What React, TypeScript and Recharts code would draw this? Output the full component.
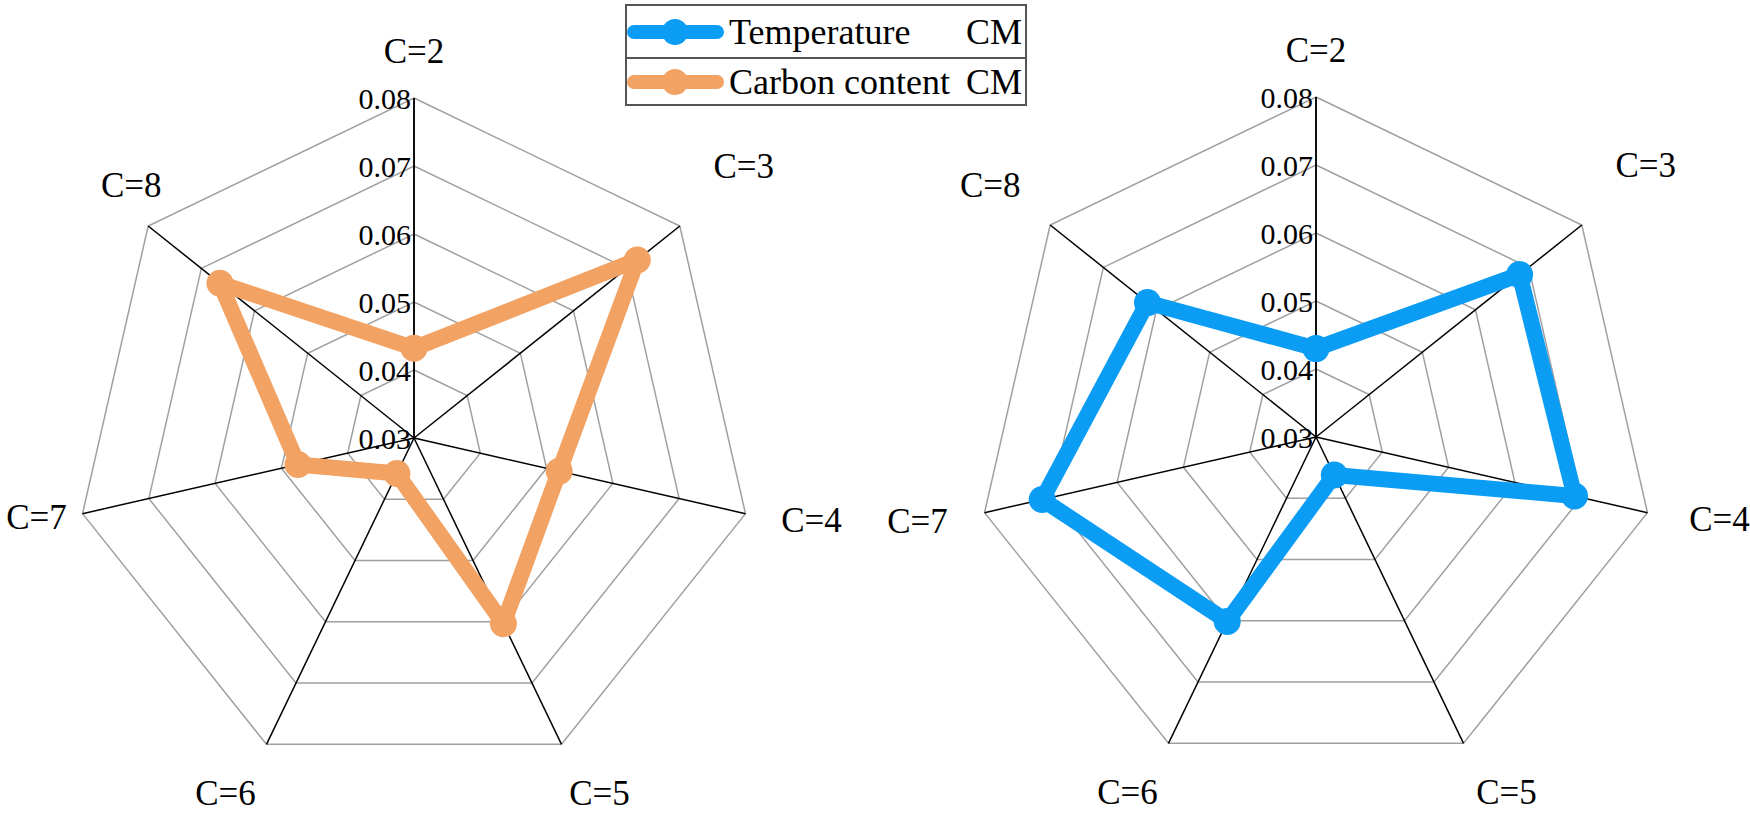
import { RadarChart, Radar, PolarGrid, PolarAngleAxis, PolarRadiusAxis, Legend } from 'recharts'

const categories = ['C=2', 'C=3', 'C=4', 'C=5', 'C=6', 'C=7', 'C=8']
const carbonCM = [0.0432, 0.072, 0.0519, 0.0603, 0.0358, 0.0475, 0.0665]
const temperatureCM = [0.043, 0.0683, 0.069, 0.0362, 0.0601, 0.0713, 0.0617]
const radiusTicks = [0.03, 0.04, 0.05, 0.06, 0.07, 0.08]
const AXIS_MIN = 0.03
const AXIS_MAX = 0.08

const ORANGE = '#F2A263'
const BLUE = '#0B9CF4'
const FONT = '"Liberation Serif", "Times New Roman", serif'

// radius axis starts at 0.03 in the centre: values are plotted relative to it
const carbonData = categories.map((c, i) => ({ category: c, value: carbonCM[i] - AXIS_MIN }))
const temperatureData = categories.map((c, i) => ({ category: c, value: temperatureCM[i] - AXIS_MIN }))
const shiftedTicks = radiusTicks.map(t => Number((t - AXIS_MIN).toFixed(4)))

const legendItems = [
  { label: 'Temperature', suffix: 'CM', color: BLUE },
  { label: 'Carbon content', suffix: 'CM', color: ORANGE },
]

const OUTER = 340

type Offsets = Record<string, [number, number]>

// label centre relative to the outer vertex of each spoke
const leftOffsets: Offsets = {
  'C=2': [0, -47],
  'C=3': [64, -60],
  'C=4': [66, 7],
  'C=5': [38, 49],
  'C=6': [-41, 49],
  'C=7': [-46, 4],
  'C=8': [-17, -41],
}
const rightOffsets: Offsets = {
  'C=2': [0, -47],
  'C=3': [64, -60],
  'C=4': [72, 7],
  'C=5': [43, 49],
  'C=6': [-41, 49],
  'C=7': [-67, 9],
  'C=8': [-60, -40],
}

function makeAngleTick(cx: number, cy: number, offsets: Offsets) {
  return (props: any) => {
    const { x, y, payload } = props
    const dx = x - cx
    const dy = y - cy
    const len = Math.hypot(dx, dy) || 1
    const vx = cx + (dx / len) * OUTER
    const vy = cy + (dy / len) * OUTER
    const [ox, oy] = offsets[payload.value] ?? [0, 0]
    return (
      <text
        x={vx + ox}
        y={vy + oy}
        textAnchor="middle"
        dominantBaseline="central"
        fontSize={35}
        fontFamily={FONT}
        style={{ fontFamily: FONT }}
        fill="#000"
      >
        {payload.value}
      </text>
    )
  }
}

const RadiusTick = (props: any) => (
  <text
    x={props.x - 3}
    y={props.y}
    textAnchor="end"
    dominantBaseline="central"
    fontSize={30}
    fontFamily={FONT}
    style={{ fontFamily: FONT }}
    fill="#000"
  >
    {(Number(props.payload.value) + AXIS_MIN).toFixed(2)}
  </text>
)

const LegendBox = () => (
  <div
    style={{
      width: 402,
      border: '2px solid #555',
      boxSizing: 'border-box',
      fontFamily: FONT,
      fontSize: 36,
      background: '#fff',
      color: '#000',
      whiteSpace: 'nowrap',
    }}
  >
    {legendItems.map((it, i) => (
      <div
        key={it.label}
        style={{
          display: 'flex',
          alignItems: 'center',
          height: i === 0 ? 51 : 45,
          borderTop: i > 0 ? '2px solid #555' : 'none',
          paddingRight: 3,
          lineHeight: 1,
        }}
      >
        <svg width={100} height={30} style={{ flex: 'none' }}>
          <line x1={7} y1={15} x2={90} y2={15} stroke={it.color} strokeWidth={14} strokeLinecap="round" />
          <circle cx={48} cy={15} r={13} fill={it.color} />
        </svg>
        <span style={{ marginLeft: 2 }}>{it.label}</span>
        <span style={{ marginLeft: 'auto', paddingLeft: 9 }}>{it.suffix}</span>
      </div>
    ))}
  </div>
)

function Spider({
  data,
  color,
  cx,
  cy,
  width,
  offsets,
  withLegend,
}: {
  data: { category: string; value: number }[]
  color: string
  cx: number
  cy: number
  width: number
  offsets: Offsets
  withLegend?: boolean
}) {
  return (
    <RadarChart
      width={width}
      height={814}
      data={data}
      cx={cx}
      cy={cy}
      outerRadius={OUTER}
      margin={{ top: 0, right: 0, bottom: 0, left: 0 }}
      style={{ overflow: 'visible' }}
    >
      <PolarGrid gridType="polygon" radialLines={false} stroke="#a0a0a0" strokeWidth={1.5} />
      <PolarGrid gridType="polygon" polarRadius={[0]} stroke="#000" strokeWidth={1.5} />
      <PolarAngleAxis
        dataKey="category"
        axisLine={false}
        tickLine={false}
        tick={makeAngleTick(cx, cy, offsets)}
      />
      <PolarRadiusAxis
        angle={90}
        type="number"
        domain={[0, AXIS_MAX - AXIS_MIN]}
        ticks={shiftedTicks}
        allowDataOverflow
        axisLine={{ stroke: '#000', strokeWidth: 1.5 }}
        tickLine={false}
        tick={RadiusTick}
      />
      <Radar
        dataKey="value"
        stroke={color}
        strokeWidth={16}
        strokeLinejoin="round"
        fill="none"
        fillOpacity={0}
        dot={(p: any) => <circle key={`dot-${p.index}`} cx={p.cx} cy={p.cy} r={13.5} fill={color} />}
        isAnimationActive={false}
      />
      {withLegend && (
        <Legend
          layout="horizontal"
          verticalAlign="middle"
          align="center"
          content={() => <LegendBox />}
          wrapperStyle={{ position: 'absolute', left: 625, top: 4, width: 402 }}
        />
      )}
    </RadarChart>
  )
}

export default function App() {
  return (
    <div
      style={{
        position: 'absolute',
        left: 0,
        top: 0,
        width: 1750,
        height: 814,
        background: '#fff',
        fontFamily: FONT,
      }}
    >
      <div style={{ position: 'absolute', left: 880, top: 0 }}>
        <Spider data={temperatureData} color={BLUE} cx={436} cy={437} width={870} offsets={rightOffsets} />
      </div>
      <div style={{ position: 'absolute', left: 0, top: 0 }}>
        <Spider data={carbonData} color={ORANGE} cx={414} cy={438} width={880} offsets={leftOffsets} withLegend />
      </div>
    </div>
  )
}
